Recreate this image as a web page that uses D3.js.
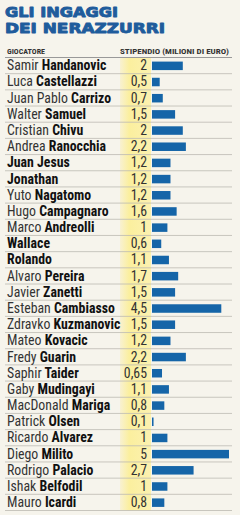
<!DOCTYPE html>
<html><head><meta charset="utf-8">
<script src="https://cdn.jsdelivr.net/npm/d3@7"></script>
<style>
html,body{margin:0;padding:0;background:#f6f4ec;}
svg{display:block;}
</style></head>
<body>
<script>
const titleLines = ["GLI INGAGGI", "DEI NERAZZURRI"];
const headerLeft = "GIOCATORE";
const headerRight = "STIPENDIO (MILIONI DI EURO)";
const firstNames = ["Samir","Luca","Juan Pablo","Walter","Cristian","Andrea","Juan","Jonathan","Yuto","Hugo","Marco","Wallace","Rolando","Alvaro","Javier","Esteban","Zdravko","Mateo","Fredy","Saphir","Gaby","MacDonald","Patrick","Ricardo","Diego","Rodrigo","Ishak","Mauro"];
const lastNames = ["Handanovic","Castellazzi","Carrizo","Samuel","Chivu","Ranocchia","Jesus","","Nagatomo","Campagnaro","Andreolli","","","Pereira","Zanetti","Cambiasso","Kuzmanovic","Kovacic","Guarin","Taider","Mudingayi","Mariga","Olsen","Alvarez","Milito","Palacio","Belfodil","Icardi"];
const firstBold = [false,false,false,false,false,false,true,true,false,false,false,true,true,false,false,false,false,false,false,false,false,false,false,false,false,false,false,false];
const salaries = [2,0.5,0.7,1.5,2,2.2,1.2,1.2,1.2,1.6,1,0.6,1.1,1.7,1.5,4.5,1.5,1.2,2.2,0.65,1.1,0.8,0.1,1,5,2.7,1,0.8];

const W = 240, H = 515;
const rows = salaries.map((v,i)=>({i, first:firstNames[i], last:lastNames[i], fb:firstBold[i], v}));
const locale = d3.formatLocale({decimal:",", thousands:".", grouping:[3], currency:["€",""]});
const fmt = v => locale.format("~g")(v);

const svg = d3.select("body").append("svg").attr("width",W).attr("height",H);
const defs = svg.append("defs");
const g = defs.append("linearGradient").attr("id","yel").attr("x1","0").attr("x2","1");
g.append("stop").attr("offset","0%").attr("stop-color","#f8f1d2");
g.append("stop").attr("offset","30%").attr("stop-color","#fbef9e");
g.append("stop").attr("offset","100%").attr("stop-color","#fcf1b0");

const tableTop = 57.5, tableBottom = 510.5;
const y = d3.scaleBand().domain(rows.map(d=>d.i)).range([tableTop,tableBottom]).paddingInner(0);
const x = d3.scaleLinear().domain([0,5]).range([152,229]);

const narrow = "'Liberation Sans Narrow','Arial Narrow','Roboto Condensed',sans-serif";

// title
svg.selectAll("text.title").data(titleLines).join("text")
  .attr("class","title")
  .attr("x",5).attr("y",(d,i)=>17.2+i*16)
  .attr("font-family","'DejaVu Sans',sans-serif").attr("font-weight","900")
  .attr("font-size",13.6).attr("fill","#1f5c9c")
  .attr("stroke","#1f5c9c").attr("stroke-width",0.9).attr("stroke-linejoin","round")
  .attr("textLength",(d,i)=>i===0?113:160).attr("lengthAdjust","spacingAndGlyphs")
  .text(d=>d);

// yellow column
svg.append("rect").attr("x",120).attr("y",tableTop).attr("width",31).attr("height",tableBottom-tableTop).attr("fill","url(#yel)");

// headers
svg.append("text").attr("x",7).attr("y",54).attr("font-family",narrow).attr("font-weight","bold")
  .attr("font-size",7.5).attr("fill","#333").attr("textLength",38).attr("lengthAdjust","spacingAndGlyphs").text(headerLeft);
svg.append("text").attr("x",120).attr("y",54).attr("font-family",narrow).attr("font-weight","bold")
  .attr("font-size",7.5).attr("fill","#333").attr("textLength",109).attr("lengthAdjust","spacingAndGlyphs").text(headerRight);

// separators
svg.selectAll("line.sep").data(d3.range(rows.length+1)).join("line")
  .attr("class","sep")
  .attr("x1",5).attr("x2",232)
  .attr("y1",d=> d===rows.length ? tableBottom : y(d))
  .attr("y2",d=> d===rows.length ? tableBottom : y(d))
  .attr("stroke",d=>d===0?"#999":"#bdbab2").attr("stroke-width",d=>d===0?1:0.8);

// names
const names = svg.selectAll("text.name").data(rows).join("text")
  .attr("class","name")
  .attr("x",7).attr("y",d=>y(d.i)+y.bandwidth()/2+4.7)
  .attr("font-family",narrow).attr("font-size",13.8).attr("fill","#222");
names.each(function(d){
  const t = d3.select(this);
  t.append("tspan").attr("font-weight",d.fb?"bold":"normal").attr("fill",d.fb?"#111":"#333").text(d.first);
  if(d.last) t.append("tspan").attr("font-weight","bold").attr("fill","#111").text(" "+d.last);
});

// values
svg.selectAll("text.val").data(rows).join("text")
  .attr("class","val")
  .attr("x",147).attr("y",d=>y(d.i)+y.bandwidth()/2+4.7)
  .attr("text-anchor","end")
  .attr("font-family",narrow).attr("font-size",13.8).attr("fill","#333")
  .text(d=>fmt(d.v));

// bars
svg.selectAll("rect.bar").data(rows).join("rect")
  .attr("class","bar")
  .attr("x",x(0)).attr("y",d=>y(d.i)+y.bandwidth()/2-4)
  .attr("width",d=>Math.max(1.5,x(d.v)-x(0))).attr("height",8.5)
  .attr("fill","#1565a8");
</script>
</body></html>
